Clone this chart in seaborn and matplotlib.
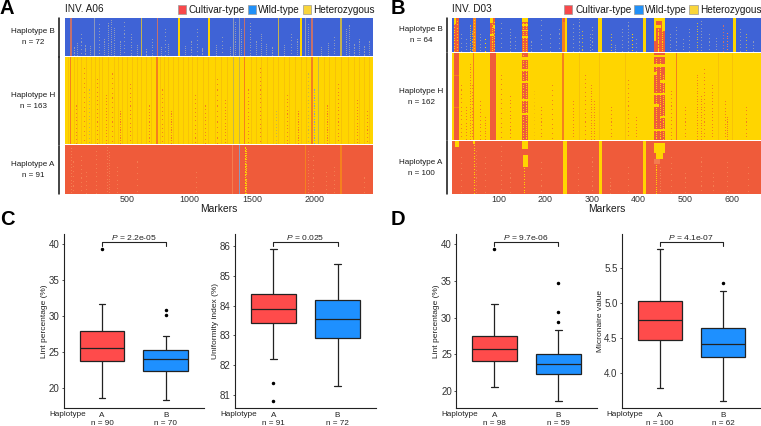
import matplotlib
matplotlib.use("Agg")
import matplotlib.pyplot as plt
from matplotlib.colors import ListedColormap
from matplotlib.patches import Rectangle
from matplotlib.lines import Line2D
from matplotlib.transforms import blended_transform_factory
import numpy as np
import pandas as pd
import seaborn as sns

sns.set_style("white")
plt.rcParams["font.family"] = ["Liberation Sans", "DejaVu Sans"]
plt.rcParams["mathtext.fontset"] = "custom"
plt.rcParams["mathtext.rm"] = "Liberation Sans"
plt.rcParams["mathtext.it"] = "Liberation Sans:italic"

W, H = 761, 426

# genotype codes, the last ones are mixed columns seen at small scale
CULT, WILD, HET, TAN, OLIVE, GREY, ORANGE, GOLD, PALE = range(9)
GENO_COLORS = ["#EF5B3A", "#3F63D6", "#FFD500", "#C4706E", "#C4B24E",
               "#8C98BC", "#F5801E", "#F7C208", "#F47C50"]

# ---- INV. A06 ----
A06_MARKERS = 2470
A06_ROWS = [72, 163, 91]
A06_BASE = [WILD, HET, CULT]
A06_TICKS = [500, 1000, 1500, 2000]
# (first marker, last marker, code)
A06_STRIPES_B = [(44, 53, TAN), (235, 243, GREY), (606, 615, OLIVE), (734, 743, TAN),
                 (906, 920, HET), (1146, 1160, HET), (1350, 1358, GREY), (1392, 1400, GREY),
                 (1436, 1445, TAN), (1710, 1719, OLIVE), (1884, 1900, HET), (1922, 1930, GREY),
                 (1976, 1986, TAN), (2202, 2218, OLIVE)]
A06_STRIPES_H = [(24, 32, GOLD), (40, 52, ORANGE), (72, 80, GOLD), (100, 108, GOLD), (128, 136, GOLD),
                 (168, 176, GOLD), (208, 216, GOLD), (240, 248, GOLD), (272, 280, GOLD),
                 (300, 308, GOLD), (345, 353, GOLD), (395, 403, GOLD), (424, 432, GOLD), (455, 463, GOLD),
                 (496, 504, GOLD), (536, 544, GOLD), (576, 584, GOLD), (606, 614, GOLD), (648, 656, GOLD),
                 (688, 696, GOLD), (728, 742, ORANGE), (760, 768, GOLD), (790, 798, GOLD), (830, 838, GOLD),
                 (868, 876, GOLD), (905, 913, GOLD), (945, 953, GOLD), (985, 993, GOLD), (1020, 1028, GOLD),
                 (1060, 1068, GOLD), (1105, 1113, GOLD), (1150, 1158, GOLD), (1200, 1208, GOLD),
                 (1250, 1258, GOLD), (1300, 1308, GOLD), (1350, 1358, OLIVE), (1392, 1400, OLIVE),
                 (1436, 1445, ORANGE), (1490, 1498, GOLD), (1530, 1538, GOLD), (1575, 1583, GOLD),
                 (1620, 1628, GOLD), (1665, 1673, GOLD), (1710, 1718, GOLD), (1755, 1763, GOLD),
                 (1800, 1808, GOLD), (1845, 1853, GOLD), (1890, 1898, GOLD), (1930, 1938, GOLD),
                 (1976, 1986, ORANGE), (2030, 2038, OLIVE), (2075, 2083, GOLD), (2120, 2128, GOLD),
                 (2165, 2173, GOLD), (2210, 2218, GOLD), (2270, 2278, GOLD), (2315, 2323, GOLD),
                 (2360, 2368, GOLD), (2400, 2408, GOLD), (2440, 2448, GOLD)]
A06_STRIPES_A = [(1340, 1348, PALE), (1392, 1400, GREY), (1922, 1931, ORANGE), (2208, 2218, ORANGE)]
# (marker, first row, row step, code)
A06_FLECKS_B = [(70, 54, 3, GREY), (100, 46, 4, GREY), (130, 30, 7, GREY), (160, 50, 3, GREY), (200, 52, 4, GREY),
                (270, 12, 6, GREY), (310, 40, 4, GREY), (345, 10, 4, GREY), (365, 4, 4, GREY),
                (395, 18, 4, GREY), (440, 44, 4, GREY), (470, 8, 7, GREY), (530, 30, 5, GREY),
                (580, 50, 4, GREY), (650, 58, 3, GREY), (700, 40, 5, GREY), (770, 54, 4, GREY), (800, 20, 7, GREY),
                (830, 48, 4, GREY), (960, 52, 4, GREY), (1010, 44, 5, GREY), (1060, 20, 7, GREY),
                (1100, 56, 3, GREY), (1210, 50, 4, GREY), (1260, 36, 7, GREY), (1320, 54, 4, GREY),
                (1365, 8, 4, GREY), (1410, 20, 4, GREY), (1480, 10, 5, GREY), (1530, 44, 4, GREY),
                (1570, 30, 4, GREY), (1610, 48, 4, GREY), (1660, 54, 3, GREY), (1760, 50, 4, GREY),
                (1810, 30, 6, GREY), (1860, 40, 4, GREY), (1950, 12, 4, GREY), (2050, 54, 4, GREY),
                (2110, 46, 4, GREY), (2160, 36, 5, GREY), (2250, 20, 4, GREY), (2280, 14, 4, GREY),
                (2320, 48, 3, GREY), (2360, 40, 4, GREY), (2400, 52, 3, GREY), (2440, 44, 4, GREY)]
A06_FLECKS_H = [(88, 90, 7, ORANGE), (150, 20, 9, ORANGE), (190, 60, 7, OLIVE), (260, 40, 8, ORANGE),
                (330, 70, 6, ORANGE), (375, 30, 9, ORANGE), (440, 100, 5, ORANGE), (520, 50, 8, ORANGE),
                (670, 90, 6, ORANGE), (775, 60, 8, ORANGE), (850, 100, 5, ORANGE), (1040, 70, 8, ORANGE),
                (1125, 90, 7, ORANGE), (1220, 40, 10, ORANGE), (1280, 80, 6, ORANGE), (1470, 60, 7, ORANGE),
                (1560, 20, 8, ORANGE), (1690, 100, 6, OLIVE), (1780, 70, 7, ORANGE), (1870, 100, 5, ORANGE),
                (1950, 30, 7, OLIVE), (2000, 60, 5, GREY), (2100, 90, 5, ORANGE), (2190, 50, 7, ORANGE),
                (2340, 80, 6, ORANGE), (2420, 100, 7, ORANGE)]
A06_FLECKS_A = [(50, 4, 6, PALE), (65, 30, 9, PALE), (130, 20, 8, PALE), (170, 50, 8, PALE),
                (245, 10, 8, PALE), (335, 2, 6, PALE), (350, 12, 5, PALE), (420, 40, 8, PALE),
                (580, 30, 11, PALE), (1050, 50, 9, PALE), (1440, 2, 3, HET), (1448, 6, 4, HET),
                (1450, 30, 7, PALE), (1950, 10, 6, PALE), (1990, 20, 8, PALE), (2160, 40, 8, PALE),
                (2090, 50, 8, PALE), (2400, 60, 9, PALE)]

# ---- INV. D03 ----
D03_MARKERS = 662
D03_ROWS = [64, 162, 100]
D03_BASE = [WILD, HET, CULT]
D03_TICKS = [100, 200, 300, 400, 500, 600]
D03_STRIPES_B = [(5, 14, CULT), (46, 51, ORANGE), (82, 93, CULT), (149, 162, CULT),
                 (235, 242, ORANGE), (242, 247, HET), (313, 322, HET), (410, 416, HET),
                 (432, 457, CULT), (603, 609, HET)]
D03_STRIPES_H = [(4, 14, CULT), (46, 48, ORANGE), (82, 94, CULT), (149, 162, CULT),
                 (235, 241, ORANGE), (272, 274, GOLD), (315, 317, GOLD), (370, 372, GOLD),
                 (432, 457, CULT), (480, 482, ORANGE), (570, 572, GOLD), (600, 602, GOLD)]
D03_STRIPES_A = [(237, 247, HET), (314, 322, HET), (410, 416, HET)]
# (first marker, last marker, first row, last row, code) for partial blocks
D03_BLOCKS_B = [(5, 8, 0, 12, HET), (82, 87, 0, 10, HET), (88, 93, 14, 18, HET), (82, 90, 30, 33, HET),
                (150, 162, 0, 8, HET), (150, 162, 12, 15, HET), (150, 162, 22, 25, HET), (150, 162, 34, 37, HET),
                (432, 457, 0, 6, HET), (432, 437, 6, 44, HET), (450, 457, 6, 24, HET), (438, 448, 14, 18, HET),
                (238, 242, 0, 8, CULT)]
D03_BLOCKS_H = [(149, 162, 8, 12, HET), (149, 162, 30, 33, HET), (149, 162, 52, 55, HET), (149, 162, 86, 89, HET),
                (149, 162, 112, 115, HET), (432, 457, 4, 8, HET), (432, 457, 20, 25, HET), (432, 440, 36, 40, HET),
                (446, 457, 50, 55, HET), (432, 457, 74, 78, HET), (432, 444, 96, 100, HET),
                (446, 457, 118, 122, HET), (432, 457, 142, 146, HET), (4, 14, 40, 43, ORANGE), (4, 14, 100, 103, ORANGE)]
D03_BLOCKS_A = [(6, 14, 0, 12, HET), (150, 162, 0, 16, HET), (152, 162, 26, 50, HET),
                (432, 456, 4, 24, HET), (436, 452, 24, 34, HET), (432, 446, 34, 44, PALE),
                (46, 50, 0, 6, HET)]
# (marker, first row, row step, code)
D03_FLECKS_B = [(5, 2, 5, HET), (10, 6, 6, HET), (20, 30, 8, GREY), (30, 40, 6, GREY), (39, 14, 4, OLIVE),
                (42, 24, 5, OLIVE), (48, 3, 6, HET), (60, 30, 6, GREY), (70, 40, 7, HET),
                (85, 4, 4, HET), (90, 8, 5, HET), (105, 10, 9, GREY), (125, 20, 6, GREY),
                (135, 36, 7, GREY), (152, 2, 4, HET), (158, 6, 4, HET), (170, 44, 6, GREY),
                (190, 4, 9, GREY), (210, 30, 8, GREY), (230, 20, 9, GREY), (260, 12, 7, GREY),
                (272, 2, 6, GREY), (278, 24, 7, OLIVE), (295, 30, 6, GREY), (300, 16, 7, GREY),
                (340, 30, 6, OLIVE), (350, 50, 4, GREY), (365, 20, 7, GREY), (378, 8, 6, GREY),
                (385, 30, 6, HET), (395, 40, 7, GREY), (436, 10, 4, HET), (441, 20, 3, HET),
                (450, 8, 4, HET), (468, 30, 6, GREY), (480, 16, 7, GREY), (495, 40, 6, GREY),
                (508, 20, 7, GREY), (525, 10, 5, OLIVE), (533, 6, 6, GREY), (550, 30, 7, GREY),
                (565, 38, 5, GREY), (580, 14, 6, TAN), (590, 28, 5, PALE), (618, 20, 7, GREY),
                (630, 30, 6, OLIVE), (645, 44, 6, GREY)]
D03_FLECKS_H = [(20, 60, 8, ORANGE), (30, 100, 6, ORANGE), (39, 20, 5, ORANGE), (42, 60, 6, ORANGE),
                (60, 90, 7, ORANGE), (70, 120, 5, ORANGE), (105, 40, 9, ORANGE), (125, 80, 7, ORANGE),
                (152, 4, 5, HET), (158, 10, 4, HET), (175, 70, 7, GOLD), (190, 100, 7, ORANGE),
                (215, 60, 9, ORANGE), (260, 90, 6, ORANGE), (285, 40, 8, ORANGE), (298, 60, 5, ORANGE),
                (305, 90, 5, ORANGE), (340, 100, 7, ORANGE), (378, 50, 8, ORANGE), (395, 120, 6, ORANGE),
                (438, 10, 4, HET), (446, 6, 4, HET), (452, 40, 4, HET),
                (470, 70, 7, ORANGE), (500, 100, 7, ORANGE), (525, 40, 5, ORANGE), (533, 80, 5, ORANGE),
                (540, 30, 7, ORANGE), (558, 60, 6, ORANGE), (585, 90, 6, ORANGE), (590, 120, 4, ORANGE),
                (630, 100, 7, ORANGE)]
D03_FLECKS_A = [(20, 30, 11, PALE), (48, 8, 5, HET), (52, 20, 7, PALE), (155, 52, 5, HET),
                (70, 30, 11, PALE), (105, 10, 9, PALE), (125, 60, 9, PALE), (190, 40, 11, PALE),
                (270, 50, 11, PALE), (300, 30, 9, PALE), (338, 70, 7, PALE), (378, 50, 11, PALE),
                (438, 46, 4, HET), (446, 50, 5, PALE), (470, 30, 11, PALE), (500, 60, 9, PALE),
                (533, 30, 9, PALE), (560, 60, 8, PALE), (590, 40, 9, PALE), (635, 50, 11, PALE)]

# ---- phenotypes (whiskers, quartiles, medians, outliers) ----
C_LINT_A = [18.6, 21.5, 23.8, 24.8, 25.6, 26.7, 27.9, 31.7, 39.3]
C_LINT_B = [18.3, 20.2, 21.3, 22.4, 23.0, 23.6, 24.1, 24.5, 24.9, 25.3, 27.2, 30.2, 30.8]
C_UNIF_A = [80.8, 81.4, 82.2, 83.4, 83.5, 83.7, 83.9, 84.0, 84.2, 84.4, 84.9, 85.4, 85.89]
C_UNIF_B = [81.3, 82.9, 83.55, 84.2, 85.4]
D_LINT_A = [20.5, 22.5, 24.1, 25.0, 25.7, 26.5, 27.5, 31.8, 39.3]
D_LINT_B = [18.7, 20.0, 21.0, 21.8, 22.3, 22.7, 23.0, 23.4, 23.7, 24.0, 24.3, 24.7, 25.0,
            28.3, 29.4, 30.8, 34.7]
D_MIC_A = [3.79, 4.47, 4.76, 5.03, 5.76]
D_MIC_B = [3.61, 3.9, 4.225, 4.3, 4.41, 4.52, 4.645, 5.17, 5.287]

BOX_COLORS = ["#FF4B4B", "#1E90FF"]
LEGEND_NAMES = ["Cultivar-type", "Wild-type", "Heterozygous"]
LEGEND_COLORS = ["#F8484B", "#2090F8", "#F9D53A"]
HAP_NAMES = ["Haplotype B", "Haplotype H", "Haplotype A"]

fig = plt.figure(figsize=(W / 100, H / 100), dpi=100)


def px_axes(x0, y0, x1, y1):
    return fig.add_axes([x0 / W, 1 - y1 / H, (x1 - x0) / W, (y1 - y0) / H])


def ftext(x, y, s, **kw):
    kw.setdefault("va", "center")
    kw.setdefault("color", "#1a1a1a")
    fig.text(x / W, 1 - y / H, s, **kw)


def make_matrix(n_markers, rows, base, stripes, blocks, flecks, fleck_w):
    parts = []
    for i in range(3):
        m = np.full((rows[i], n_markers), float(base[i]))
        for a, b, code in stripes[i]:
            m[:, a:b] = code
        for a, b, r0, r1, code in blocks[i]:
            m[r0:r1, a:b] = code
        for c, first, step, code in flecks[i]:
            for r in range(first, rows[i], step):
                m[r:r + 2, c:c + fleck_w] = code
        parts.append(m)
        if i < 2:
            parts.append(np.full((2, n_markers), np.nan))
    return np.vstack(parts)


def draw_heat(mat, ticks, box, bar_x, label_x, rows, title_x, letter, letter_x, legend_xs):
    ax = px_axes(*box)
    sns.heatmap(mat, cmap=ListedColormap(GENO_COLORS), vmin=0, vmax=len(GENO_COLORS) - 1,
                cbar=False, xticklabels=False, yticklabels=False, ax=ax)
    ax.set_xticks(ticks)
    ax.set_xticklabels([str(t) for t in ticks], rotation=0, fontsize=6.4, color="#333333")
    ax.tick_params(axis="x", length=0, pad=1)
    ax.set_xlabel("Markers", fontsize=7.4, labelpad=0, color="#1a1a1a")

    # group bars and labels on the left
    top, bottom = box[1], box[3]
    scale = (bottom - top) / sum(rows)
    y = top
    for name, n in zip(HAP_NAMES, rows):
        h = n * scale
        fig.add_artist(Line2D([bar_x / W] * 2, [1 - (y + 0.2) / H, 1 - (y + h - 0.2) / H],
                              color="#111111", lw=1.1))
        ftext(label_x, y + h / 2 - 5.5, name, ha="center", fontsize=5.8)
        ftext(label_x, y + h / 2 + 5.5, "n = %d" % n, ha="center", fontsize=5.8)
        y += h + 0.3

    ftext(title_x, 9.5, "INV. " + ("A06" if letter == "A" else "D03"), fontsize=7.2)
    ftext(letter_x, 8.5, letter, fontsize=14.5, fontweight="bold", color="black")
    for (sq, tx), name, col in zip(legend_xs, LEGEND_NAMES, LEGEND_COLORS):
        fig.add_artist(Rectangle((sq / W, 1 - 13.7 / H), 8.3 / W, 8.4 / H, transform=fig.transFigure,
                                 facecolor=col, edgecolor="#999999", lw=0.5))
        ftext(tx, 9.6, name, fontsize=7.2)


def draw_box(box, ylim, yticks, ylab, ylab_x, a_vals, b_vals, n_a, n_b, ptext, tick_fmt, hap_x):
    df = pd.DataFrame({"haplotype": ["A"] * len(a_vals) + ["B"] * len(b_vals),
                       "value": a_vals + b_vals})
    ax = px_axes(*box)
    sns.boxplot(data=df, x="haplotype", y="value", hue="haplotype", palette=BOX_COLORS,
                saturation=1, width=0.7, linecolor="#222222", linewidth=0.9, whis=1.5,
                capwidths=0.1, legend=False, ax=ax,
                flierprops=dict(marker="o", markerfacecolor="black", markeredgecolor="black", markersize=1.5))
    ax.set_xlim(-0.6, 1.6)
    ax.set_ylim(*ylim)
    ax.set_yticks(yticks)
    ax.set_yticklabels([tick_fmt % t for t in yticks], fontsize=7, color="#333333")
    ax.set_xticks([0, 1])
    ax.set_xticklabels(["A\nn = %d" % n_a, "B\nn = %d" % n_b], fontsize=5.9, linespacing=1.15, color="#222222")
    ax.tick_params(axis="y", length=1.5, width=0.6, pad=1.5, left=True, color="#333333")
    ax.tick_params(axis="x", length=0, pad=2.6)
    ax.set_xlabel("")
    ax.set_ylabel(ylab, fontsize=6, color="#222222")
    ax.yaxis.set_label_coords((ylab_x + 4 - box[0]) / (box[2] - box[0]), 0.5)
    sns.despine(ax=ax)
    for side in ("left", "bottom"):
        ax.spines[side].set_linewidth(0.8)
        ax.spines[side].set_color("#222222")

    # p value bracket
    tr = blended_transform_factory(ax.transData, ax.transAxes)
    h = box[3] - box[1]
    y_top = 1 - 8 / h
    y_low = 1 - 12 / h
    ax.plot([0, 0, 1, 1], [y_low, y_top, y_top, y_low], color="#222222", lw=0.8,
            transform=tr, clip_on=False)
    ax.text(0.5, 1 - 3.6 / h, "$\\it{P}$ = " + ptext, transform=tr, ha="center", va="center",
            fontsize=6.1, color="#222222")
    ftext(hap_x, 415, "Haplotype", fontsize=5.9, color="#222222")


# panels A and B
a06 = make_matrix(A06_MARKERS, A06_ROWS, A06_BASE,
                  [A06_STRIPES_B, A06_STRIPES_H, A06_STRIPES_A], [[], [], []],
                  [A06_FLECKS_B, A06_FLECKS_H, A06_FLECKS_A], 8)
draw_heat(a06, A06_TICKS, (65, 18, 373, 194), 59, 33, A06_ROWS, 65, "A", 0,
          [(177.7, 188.7), (247.7, 257.7), (302.7, 313.3)])

d03 = make_matrix(D03_MARKERS, D03_ROWS, D03_BASE,
                  [D03_STRIPES_B, D03_STRIPES_H, D03_STRIPES_A],
                  [D03_BLOCKS_B, D03_BLOCKS_H, D03_BLOCKS_A],
                  [D03_FLECKS_B, D03_FLECKS_H, D03_FLECKS_A], 2)
draw_heat(d03, D03_TICKS, (452, 18, 761, 194), 446.7, 421, D03_ROWS, 451.7, "B", 391,
          [(564, 575.7), (634.3, 645), (689.3, 700)])

# panels C and D
ftext(0, 219.5, "C", fontsize=14.5, fontweight="bold", color="black")
ftext(391, 219.5, "D", fontsize=14.5, fontweight="bold", color="black")

draw_box((63.7, 234, 204, 408.3), (17.17, 41.43), [20, 25, 30, 35, 40], "Lint percentage (%)", 44,
         C_LINT_A, C_LINT_B, 90, 70, "2.2e-05", "%d", 49.3)
draw_box((235, 234, 376, 408.3), (80.54, 86.41), [81, 82, 83, 84, 85, 86], "Uniformity index (%)", 215,
         C_UNIF_A, C_UNIF_B, 91, 72, "0.025", "%d", 220.5)
draw_box((456, 234, 596.7, 408.3), (17.64, 41.4), [20, 25, 30, 35, 40], "Lint percentage (%)", 436,
         D_LINT_A, D_LINT_B, 98, 59, "9.7e-06", "%d", 441.7)
draw_box((621.7, 234, 761, 408.3), (3.503, 5.978), [4.0, 4.5, 5.0, 5.5], "Micronaire value", 600,
         D_MIC_A, D_MIC_B, 100, 62, "4.1e-07", "%.1f", 606.7)

fig.savefig("out.png", dpi=100)
